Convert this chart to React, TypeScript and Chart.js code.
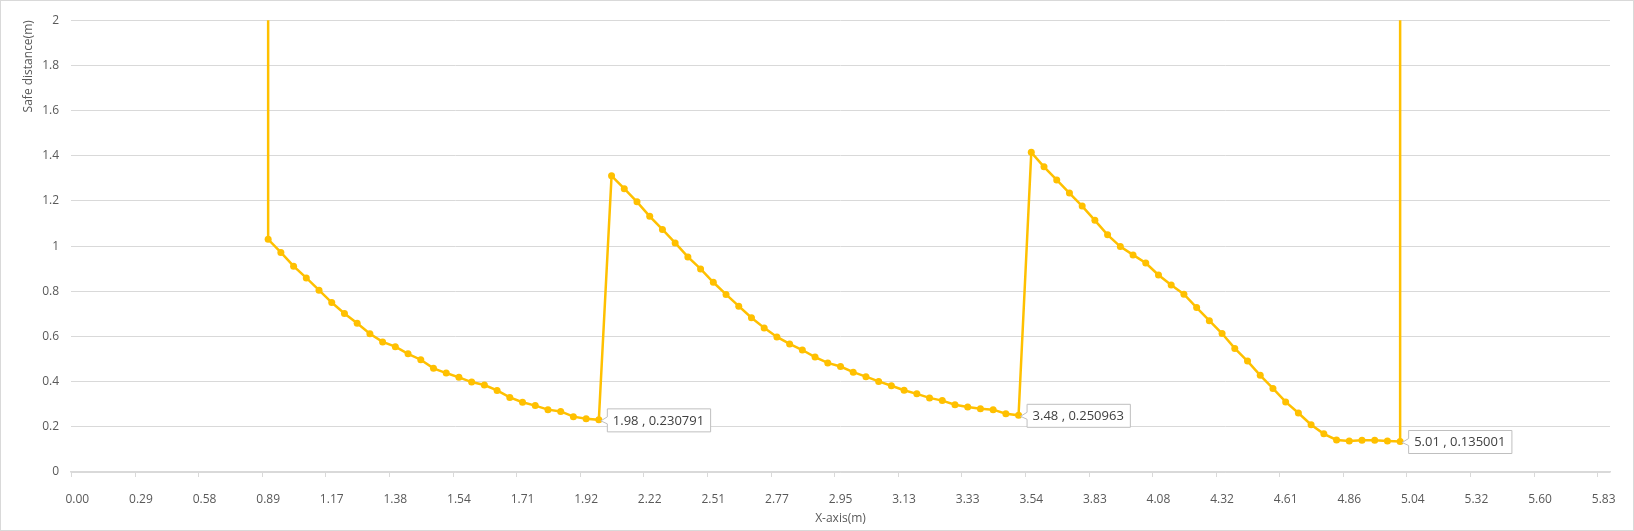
import React, { useEffect, useRef } from "react";
import { Chart, registerables } from "chart.js";
Chart.register(...registerables);

const axisLabels = ["0.00","0.29","0.58","0.89","1.17","1.38","1.54","1.71","1.92","2.22","2.51","2.77","2.95","3.13","3.33","3.54","3.83","4.08","4.32","4.61","4.86","5.04","5.32","5.60","5.83"];
const categoryCount = 121;

const seg1Start = 15;
const seg1 = [1.030,0.972,0.911,0.859,0.805,0.750,0.702,0.658,0.612,0.576,0.555,0.523,0.497,0.459,0.438,0.419,0.398,0.385,0.361,0.330,0.309,0.294,0.276,0.268,0.245,0.236,0.230791];
const seg2 = [1.311,1.254,1.196,1.132,1.074,1.014,0.952,0.899,0.840,0.786,0.734,0.683,0.638,0.598,0.567,0.540,0.509,0.483,0.467,0.442,0.422,0.401,0.382,0.362,0.346,0.328,0.316,0.298,0.288,0.280,0.276,0.258,0.250963];
const seg3 = [1.415,1.351,1.293,1.235,1.177,1.114,1.050,0.998,0.961,0.925,0.872,0.828,0.787,0.728,0.670,0.613,0.547,0.491,0.428,0.370,0.310,0.261,0.209,0.169,0.142,0.137,0.140,0.140,0.137,0.135001];
const spikeValue = 5;
const annotated = [
  { x: 41, text: "1.98 , 0.230791" },
  { x: 74, text: "3.48 , 0.250963" },
  { x: 104, text: "5.01 , 0.135001" },
];

function buildPoints() {
  const pts: { x: number; y: number }[] = [];
  pts.push({ x: seg1Start, y: spikeValue });
  [...seg1, ...seg2, ...seg3].forEach((v, k) => pts.push({ x: seg1Start + k, y: v }));
  const last = pts[pts.length - 1].x;
  pts.push({ x: last, y: spikeValue });
  return pts;
}

const labelPlugin = {
  id: "pointLabels",
  afterDatasetsDraw(chart: any) {
    const ctx = chart.ctx;
    const xs = chart.scales.x;
    const ys = chart.scales.y;
    const ds = chart.data.datasets[0].data as { x: number; y: number }[];
    ctx.save();
    // tick marks at category boundaries every 5 categories
    ctx.strokeStyle = "#d9d9d9";
    ctx.lineWidth = 1;
    const bottom = ys.bottom;
    for (let k = 0; k <= 24; k++) {
      const tx = Math.round(xs.getPixelForValue(k * 5 - 0.5)) + 0.5;
      ctx.beginPath();
      ctx.moveTo(tx, bottom);
      ctx.lineTo(tx, bottom + 5);
      ctx.stroke();
    }
    ctx.font = '13px "Open Sans", "Noto Sans", sans-serif';
    annotated.forEach((a) => {
      const p = ds.find((d) => d.x === a.x && d.y < 2)!;
      const px = xs.getPixelForValue(p.x);
      const py = ys.getPixelForValue(p.y);
      const w = ctx.measureText(a.text).width + 12;
      const h = 23;
      const bx = px + 8;
      const by = py - h / 2;
      ctx.fillStyle = "#ffffff";
      ctx.strokeStyle = "#bfbfbf";
      ctx.lineWidth = 1;
      ctx.beginPath();
      ctx.moveTo(bx + 0.5, by + 0.5);
      ctx.lineTo(bx + w + 0.5, by + 0.5);
      ctx.lineTo(bx + w + 0.5, by + h + 0.5);
      ctx.lineTo(bx + 0.5, by + h + 0.5);
      ctx.lineTo(bx + 0.5, py + 4);
      ctx.lineTo(px + 2, py + 1);
      ctx.lineTo(bx + 0.5, py - 3);
      ctx.closePath();
      ctx.fill();
      ctx.stroke();
      ctx.fillStyle = "#404040";
      ctx.textBaseline = "middle";
      ctx.fillText(a.text, bx + 6, py + 1);
    });
    ctx.restore();
  },
};

export default function App() {
  const ref = useRef<HTMLCanvasElement>(null);
  useEffect(() => {
    const font = { family: '"Open Sans", "Noto Sans", sans-serif', size: 12 };
    const chart = new Chart(ref.current!, {
      type: "line",
      data: {
        datasets: [
          {
            data: buildPoints() as any,
            borderColor: "#FFC000",
            backgroundColor: "#FFC000",
            borderWidth: 2.5,
            pointRadius: (c: any) => (c.raw && c.raw.y > 2 ? 0 : 3.5),
            pointBorderWidth: 0,
            tension: 0,
          },
        ],
      },
      options: {
        animation: false,
        responsive: false,
        maintainAspectRatio: false,
        events: [],
        layout: { padding: { top: 16, right: 23, left: 0, bottom: 0 } },
        plugins: { legend: { display: false }, tooltip: { enabled: false } },
        scales: {
          x: {
            type: "linear",
            min: -0.5,
            max: categoryCount - 0.5,
            afterBuildTicks: (s: any) => {
              s.ticks = axisLabels.map((_, k) => ({ value: k * 5 }));
            },
            grid: { display: false },
            border: { color: "#d9d9d9", width: 1.5 },
            ticks: {
              autoSkip: false,
              maxRotation: 0,
              color: "#595959",
              font,
              padding: 12,
              callback: (v: any) => axisLabels[Math.round(v / 5)],
            },
            title: { display: true, text: "X-axis(m)", color: "#595959", font, padding: { top: 4 } },
            afterFit: (s: any) => { s.height = 58; },
          },
          y: {
            min: 0,
            max: 2,
            ticks: { stepSize: 0.2, color: "#595959", font, padding: 12, callback: (v: any) => String(Math.round(v * 10) / 10) },
            grid: { color: "#d9d9d9", drawTicks: false, lineWidth: 1 },
            border: { display: false },
            title: { display: true, text: "Safe distance(m)", color: "#595959", font, align: "end", padding: { top: 20, bottom: 0 } },
            afterFit: (s: any) => { s.width = 70; },
          },
        },
      },
      plugins: [labelPlugin],
    } as any);
    return () => chart.destroy();
  }, []);
  return (
    <div style={{ position: "fixed", left: 0, top: 0, width: 1634, height: 531, boxSizing: "border-box", border: "1px solid #d9d9d9", background: "#fff" }}>
      <canvas ref={ref} width={1632} height={529} style={{ display: "block" }} />
    </div>
  );
}
